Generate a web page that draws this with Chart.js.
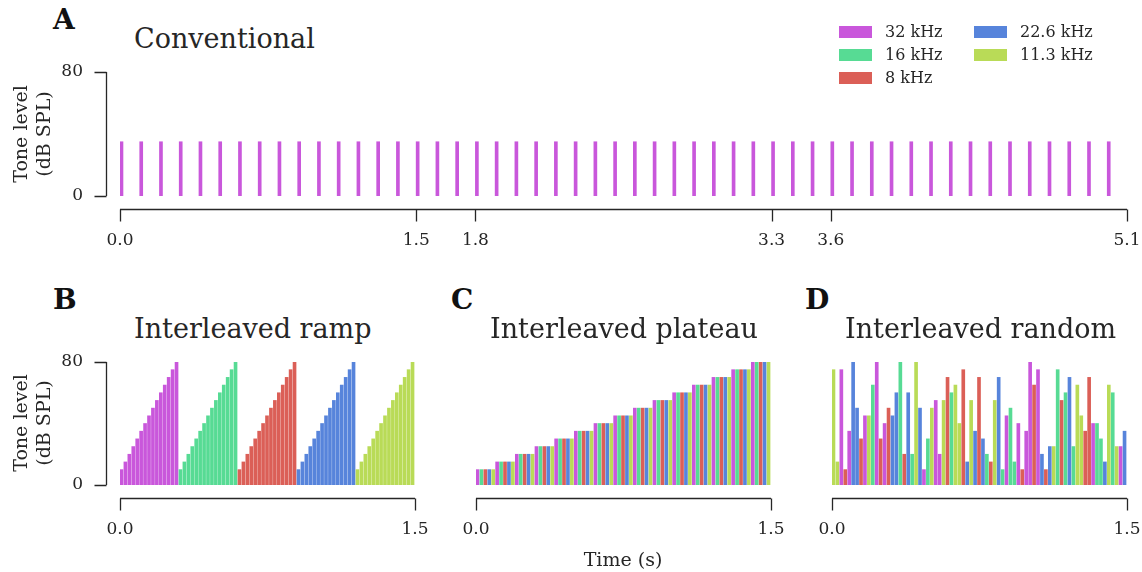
<!DOCTYPE html>
<html>
<head>
<meta charset="utf-8">
<script src="https://cdn.jsdelivr.net/npm/chart.js@4.4.1/dist/chart.umd.min.js"></script>
<style>
  body { margin: 0; background: #fff; }
  #page { position: relative; width: 1142px; height: 572px; overflow: hidden; font-family: 'DejaVu Serif', serif; color: #262626; }
  #page canvas { position: absolute; }
  .txt { position: absolute; white-space: nowrap; line-height: 1; }
  .letter { font-size: 28px; font-weight: bold; color: #111; }
  .title { font-size: 27px; }
  .ylab { font-size: 19px; line-height: 1.2; text-align: center; transform: translate(-50%, -50%) rotate(-90deg); }
  .leg { font-size: 16px; line-height: 16px; }
  .sw { position: absolute; width: 33px; height: 12px; }
</style>
</head>
<body>
<div id="page">
  <canvas id="chartA" width="1142" height="200" style="left:0;top:60px"></canvas>
  <canvas id="chartB" width="430" height="200" style="left:0;top:350px"></canvas>
  <canvas id="chartC" width="430" height="200" style="left:356px;top:350px"></canvas>
  <canvas id="chartD" width="430" height="200" style="left:712px;top:350px"></canvas>

  <div class="txt letter" style="left:53px;top:6px">A</div>
  <div class="txt title" style="left:134px;top:25px">Conventional</div>
  <div class="txt letter" style="left:53px;top:286px">B</div>
  <div class="txt title" style="left:134px;top:315px">Interleaved ramp</div>
  <div class="txt letter" style="left:451px;top:286px">C</div>
  <div class="txt title" style="left:490px;top:315px">Interleaved plateau</div>
  <div class="txt letter" style="left:805px;top:286px">D</div>
  <div class="txt title" style="left:845px;top:315px">Interleaved random</div>

  <div class="txt ylab" style="left:32px;top:134px">Tone level<br>(dB SPL)</div>
  <div class="txt ylab" style="left:32px;top:423px">Tone level<br>(dB SPL)</div>
  <div class="txt" style="left:623px;top:559px;font-size:19px;transform:translate(-50%,-50%)">Time (s)</div>
  <div id="legend"></div>
</div>
<script>
// frequencies and colours (order used in the ramp / plateau panels)
const freqLabels = ['32 kHz', '16 kHz', '8 kHz', '22.6 kHz', '11.3 kHz'];
const freqColors = ['#c957db', '#57db94', '#db5f57', '#5784db', '#b9db57'];

// sound levels in dB SPL
const stepLevels = [10, 15, 20, 25, 30, 35, 40, 45, 50, 55, 60, 65, 70, 75, 80];
const convLevel = 35;
const convCount = 51;
const convInterval = 0.1;   // s
const toneInterval = 0.02;  // s
const toneDur = 0.015;      // s

// interleaved random: frequency index and level of each tone
const randomFreqs = [4, 4, 0, 2, 0, 3, 3, 2, 0, 4, 1, 0, 2, 0, 2, 3, 3, 1, 2, 3, 1, 4, 3, 0, 1,
  4, 0, 0, 4, 2, 1, 4, 4, 2, 3, 4, 3, 2, 3, 1, 2, 4, 3, 1, 0, 1, 1, 0, 2, 0, 0, 2, 0, 3, 2,
  3, 4, 1, 2, 1, 3, 1, 4, 4, 2, 2, 0, 1, 1, 3, 4, 1, 4, 0, 3];
const randomLevels = [75, 15, 75, 10, 35, 80, 50, 30, 45, 45, 65, 80, 30, 40, 50, 45, 60, 80, 20, 60, 20, 80, 50, 10, 30,
  50, 55, 20, 55, 70, 60, 65, 40, 75, 15, 55, 35, 70, 30, 20, 15, 55, 70, 10, 45, 50, 15, 40, 10, 35, 80, 65, 75, 20, 10,
  25, 25, 75, 55, 60, 70, 25, 65, 45, 35, 70, 40, 40, 30, 15, 65, 60, 25, 25, 35];

const yTicks = [0, 80];
const xTicksA = [0, 1.5, 1.8, 3.3, 3.6, 5.1];
const xTicksB = [0, 1.5];

const axisColor = '#262626';
const tickFont = { family: 'DejaVu Serif', size: 17 };

// legend
const legendPos = [[839, 26], [839, 49], [839, 72], [974, 26], [974, 49]];
const legend = document.getElementById('legend');
freqLabels.forEach((lab, i) => {
  const [lx, ly] = legendPos[i];
  legend.insertAdjacentHTML('beforeend',
    `<div class="sw" style="left:${lx}px;top:${ly}px;background:${freqColors[i]}"></div>` +
    `<div class="txt leg" style="left:${lx + 46}px;top:${ly - 2}px">${lab}</div>`);
});

// spines drawn offset from the data area, trimmed to the first/last tick
const offsetSpines = {
  id: 'offsetSpines',
  afterDraw(chart, args, opts) {
    const { ctx, chartArea, scales } = chart;
    const xs = scales.x, ys = scales.y;
    const sx = Math.round(chartArea.left - 14) + 0.5;
    const sy = Math.round(chartArea.bottom + 13) + 0.5;
    ctx.save();
    ctx.strokeStyle = axisColor;
    ctx.lineWidth = 1.3;
    ctx.beginPath();
    if (opts.showY) {
      ctx.moveTo(sx, ys.getPixelForValue(ys.min));
      ctx.lineTo(sx, ys.getPixelForValue(ys.max));
      ys.ticks.forEach(t => {
        const py = Math.round(ys.getPixelForValue(t.value)) + 0.5;
        ctx.moveTo(sx, py);
        ctx.lineTo(sx - 12, py);
      });
    }
    ctx.moveTo(xs.getPixelForValue(xs.min), sy);
    ctx.lineTo(xs.getPixelForValue(xs.max), sy);
    xs.ticks.forEach(t => {
      const px = Math.round(xs.getPixelForValue(t.value)) + 0.5;
      ctx.moveTo(px, sy);
      ctx.lineTo(px, sy + 12);
    });
    ctx.stroke();
    ctx.restore();
  }
};

function makeChart(id, points, colors, xMax, xTicks, xAxisH, showY) {
  new Chart(document.getElementById(id), {
    type: 'bar',
    data: {
      datasets: [{
        data: points,
        backgroundColor: colors,
        borderWidth: 0,
        barThickness: 3,
        grouped: false,
      }],
    },
    options: {
      responsive: false,
      animation: false,
      devicePixelRatio: 1,
      layout: { padding: { top: 12, right: 15, left: 0, bottom: 0 } },
      plugins: { legend: { display: false }, tooltip: { enabled: false }, offsetSpines: { showY } },
      scales: {
        x: {
          type: 'linear',
          min: 0,
          max: xMax,
          offset: false,
          // tick marks are drawn by the spine plugin; tickLength only places the labels
          grid: { display: false, drawTicks: true, tickLength: 34 },
          border: { display: false },
          afterBuildTicks: s => { s.ticks = xTicks.map(v => ({ value: v })); },
          afterFit: s => { s.height = xAxisH; },
          ticks: { color: axisColor, font: tickFont, padding: 0, maxRotation: 0, autoSkip: false,
            callback: v => Number(v).toFixed(1) },
        },
        y: {
          min: 0,
          max: 80,
          grid: { display: false, drawTicks: true, tickLength: 37 },
          border: { display: false },
          afterBuildTicks: s => { s.ticks = yTicks.map(v => ({ value: v })); },
          afterFit: s => { s.width = 120; },
          ticks: { display: showY, color: axisColor, font: tickFont, padding: 0 },
        },
      },
    },
    plugins: [offsetSpines],
  });
}

// A: conventional, single frequency
const convPoints = [], convColors = [];
for (let i = 0; i < convCount; i++) {
  convPoints.push({ x: i * convInterval + toneDur / 2, y: convLevel });
  convColors.push(freqColors[0]);
}
makeChart('chartA', convPoints, convColors, 5.1, xTicksA, 64, true);

// B: ramp, each frequency runs through all levels
const rampPoints = [], rampColors = [];
freqColors.forEach((c, f) => {
  stepLevels.forEach((lv, j) => {
    const k = f * stepLevels.length + j;
    rampPoints.push({ x: k * toneInterval + toneDur / 2, y: lv });
    rampColors.push(c);
  });
});
makeChart('chartB', rampPoints, rampColors, 1.5, xTicksB, 65, true);

// C: plateau, all frequencies at each level
const platPoints = [], platColors = [];
stepLevels.forEach((lv, j) => {
  freqColors.forEach((c, f) => {
    const k = j * freqColors.length + f;
    platPoints.push({ x: k * toneInterval + toneDur / 2, y: lv });
    platColors.push(c);
  });
});
makeChart('chartC', platPoints, platColors, 1.5, xTicksB, 65, false);

// D: random
const randPoints = randomLevels.map((lv, k) => ({ x: k * toneInterval + toneDur / 2, y: lv }));
const randColors = randomFreqs.map(f => freqColors[f]);
makeChart('chartD', randPoints, randColors, 1.5, xTicksB, 65, false);
</script>
</body>
</html>
